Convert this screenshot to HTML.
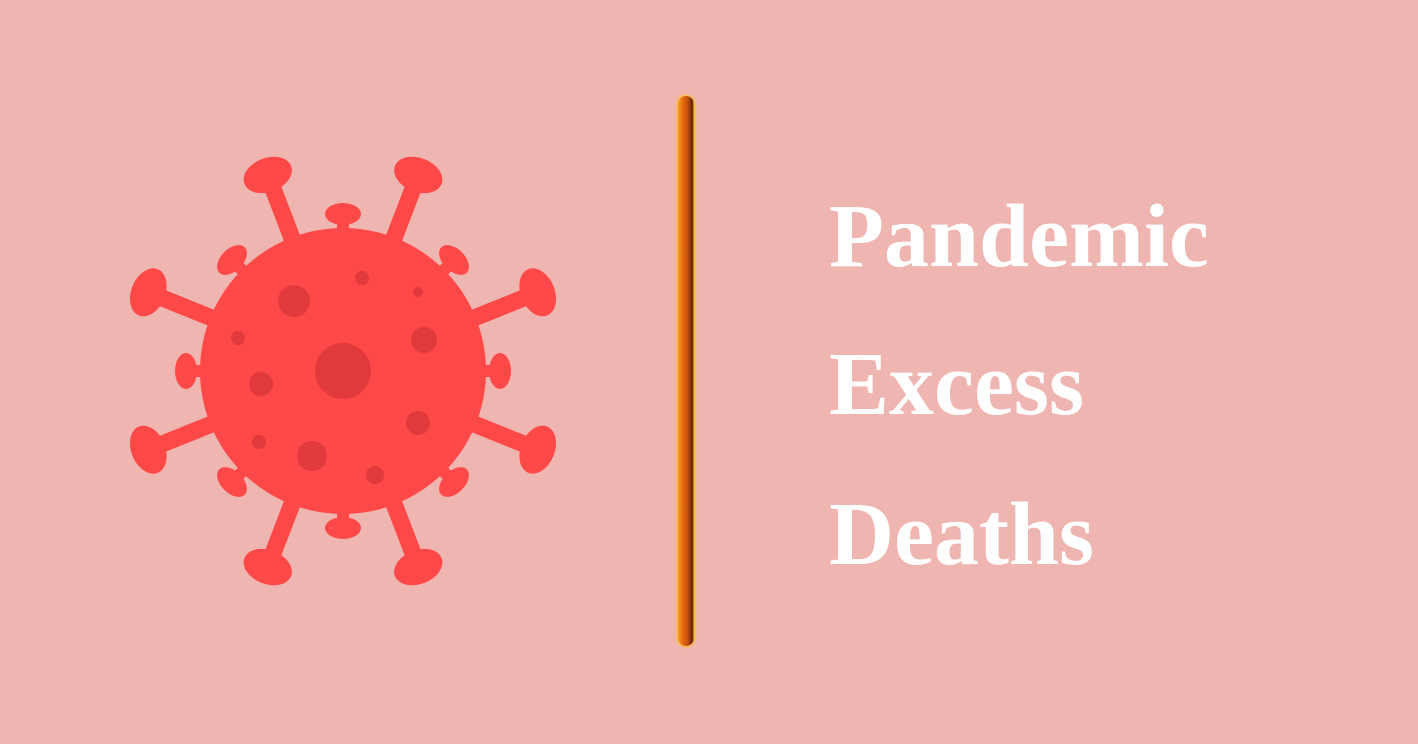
<!DOCTYPE html>
<html><head><meta charset="utf-8"><style>
html,body{margin:0;padding:0;width:1418px;height:744px;overflow:hidden;background:#efb5b1}
.t{position:absolute;left:829px;font-family:"Liberation Serif",serif;font-weight:bold;font-size:90px;color:#fff;line-height:1}
.bar{position:absolute;left:678px;top:96px;width:16px;height:550px;border-radius:8px;background:linear-gradient(90deg,#f6a020 0%,#e56a10 30%,#c9500c 60%,#5a2306 90%,#f0b000 100%);box-shadow:0 0 2px 1px #ffc21a}
</style></head><body>
<svg width="1418" height="744" style="position:absolute;left:0;top:0">
<g id="v" transform="translate(343,371)" fill="#ff4848" stroke="none">
<circle r="143"/>
</g>
<g fill="#e03a3c">
<circle cx="343" cy="371" r="28"/><circle cx="294" cy="301" r="16"/><circle cx="362" cy="278" r="7"/>
<circle cx="418" cy="292" r="5"/><circle cx="238" cy="338" r="7"/><circle cx="424" cy="340" r="13"/>
<circle cx="261" cy="384" r="12"/><circle cx="418" cy="423" r="12"/><circle cx="259" cy="442" r="7"/>
<circle cx="312" cy="456" r="15"/><circle cx="375" cy="475" r="9"/>
</g>
</svg>
<div class="bar"></div>
<div class="t" style="top:192px">Pandemic</div>
<div class="t" style="top:340px">Excess</div>
<div class="t" style="top:490px">Deaths</div>
<script>
const g=document.getElementById('v');
const NS='http://www.w3.org/2000/svg';
const longA=[-111,-69,-158,-22,22,158,69,111];
const shortA=[-90,-45,-135,0,180,45,135,90];
function spike(a,r0,r1,w,br,rx,ry){
  const s=document.createElementNS(NS,'g');
  
  
  s.setAttribute('transform','rotate('+a+')');
  const l=document.createElementNS(NS,'rect');
  l.setAttribute('x',r0);l.setAttribute('y',-w/2);l.setAttribute('width',r1-r0);l.setAttribute('height',w);
  s.appendChild(l);
  const e=document.createElementNS(NS,'ellipse');
  e.setAttribute('cx',br);e.setAttribute('cy',0);e.setAttribute('rx',rx);e.setAttribute('ry',ry);
  s.appendChild(e);
  g.insertBefore(s,g.firstChild);
}
longA.forEach(a=>spike(a,120,200,17,210,17,25));
shortA.forEach(a=>spike(a,125,150,12,157,11,18));
</script>
</body></html>
